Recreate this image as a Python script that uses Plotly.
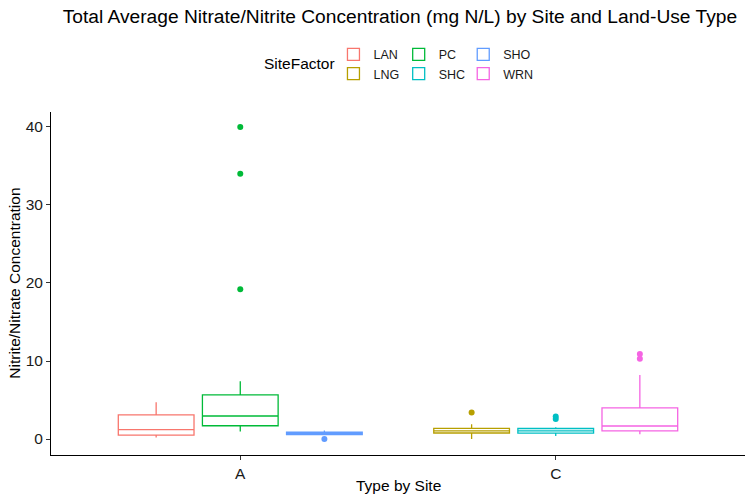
import plotly.graph_objects as go

# ---- data ----
sites = ["LAN", "PC", "SHO", "LNG", "SHC", "WRN"]
site_type = ["A", "A", "A", "C", "C", "C"]
lower_fence = [0.2, 0.95, 0.5, 0.0, 0.4, 0.6]
q1_vals = [0.5, 1.7, 0.55, 0.77, 0.75, 1.03]
median_vals = [1.2, 2.95, 0.72, 1.05, 1.05, 1.67]
q3_vals = [3.1, 5.65, 0.88, 1.37, 1.35, 4.0]
upper_fence = [4.7, 7.4, 1.1, 1.9, 1.5, 8.2]
outliers = [[], [19.2, 34.0, 40.0], [0.0], [3.4], [2.55, 2.9], [10.3, 10.9]]
colors = {"LAN": "#F8766D", "LNG": "#B79F00", "PC": "#00BA38",
          "SHC": "#00BFC4", "SHO": "#619CFF", "WRN": "#F564E3"}
slot = {"LAN": "1", "LNG": "1", "PC": "2", "SHC": "2", "SHO": "3", "WRN": "3"}
# legend laid out column-wise like ggplot: (LAN, LNG) (PC, SHC) (SHO, WRN)
legend_col = {"LAN": "legend", "LNG": "legend", "PC": "legend2", "SHC": "legend2",
              "SHO": "legend3", "WRN": "legend3"}
legend_rank = {"LAN": 1, "LNG": 2, "PC": 1, "SHC": 2, "SHO": 1, "WRN": 2}

FONT = "Liberation Sans, Arial, sans-serif"

fig = go.Figure()
for i, s in enumerate(sites):
    kw = {}
    if outliers[i]:
        kw["y"] = [outliers[i]]
        kw["boxpoints"] = "outliers"
    else:
        kw["boxpoints"] = False
    fig.add_trace(go.Box(
        name=s,
        x=[site_type[i]],
        q1=[q1_vals[i]], median=[median_vals[i]], q3=[q3_vals[i]],
        lowerfence=[lower_fence[i]], upperfence=[upper_fence[i]],
        offsetgroup=slot[s],
        line=dict(color=colors[s], width=1.3),
        fillcolor="white",
        marker=dict(color=colors[s], size=6, line=dict(width=0)),
        whiskerwidth=0,
        legend=legend_col[s],
        legendrank=legend_rank[s],
        **kw,
    ))

leg_common = dict(orientation="v", xanchor="left", yanchor="middle",
                  font=dict(family=FONT, size=12.5, color="#1a1a1a"),
                  bgcolor="rgba(0,0,0,0)", itemwidth=30, tracegroupgap=0,
                  y=1.139)

fig.update_layout(
    width=756, height=504,
    paper_bgcolor="white", plot_bgcolor="white",
    margin=dict(l=51, r=11, t=112, b=49),
    boxmode="group", boxgap=0.2, boxgroupgap=0.1,
    font=dict(family=FONT, color="black"),
    title=dict(text="Total Average Nitrate/Nitrite Concentration (mg N/L) by Site and Land-Use Type",
               x=0.529, xanchor="center", y=0.968, yanchor="middle",
               font=dict(family=FONT, size=19.2, color="black")),
    legend=dict(x=0.407, **leg_common),
    legend2=dict(x=0.501, **leg_common),
    legend3=dict(x=0.594, **leg_common),
    xaxis=dict(range=[-0.6, 1.6], showline=True, linecolor="black", linewidth=1,
               ticks="outside", ticklen=4, tickcolor="#333333", automargin=False,
               tickfont=dict(size=15.5, color="#1a1a1a"), showgrid=False, zeroline=False),
    yaxis=dict(range=[-2.05, 41.92], tickvals=[0, 10, 20, 30, 40],
               showline=True, linecolor="black", linewidth=1, automargin=False,
               ticks="outside", ticklen=4, tickcolor="#333333",
               tickfont=dict(size=15.5, color="#1a1a1a"), showgrid=False, zeroline=False),
    annotations=[
        dict(text="SiteFactor", xref="paper", yref="paper", x=0.304, y=1.14,
             xanchor="left", yanchor="middle", showarrow=False,
             font=dict(family=FONT, size=15.5, color="black")),
        dict(text="Type by Site", xref="paper", yref="paper", x=0.5, y=-0.09,
             xanchor="center", yanchor="middle", showarrow=False,
             font=dict(family=FONT, size=15.5, color="black")),
        dict(text="Nitrite/Nitrate Concentration", xref="paper", yref="paper",
             x=-0.053, y=0.5, textangle=-90, xanchor="center", yanchor="middle",
             showarrow=False, font=dict(family=FONT, size=15.5, color="black")),
    ],
)

fig.write_html("out.html", config={"displayModeBar": False},
               post_script="document.body.style.margin='0px';")
